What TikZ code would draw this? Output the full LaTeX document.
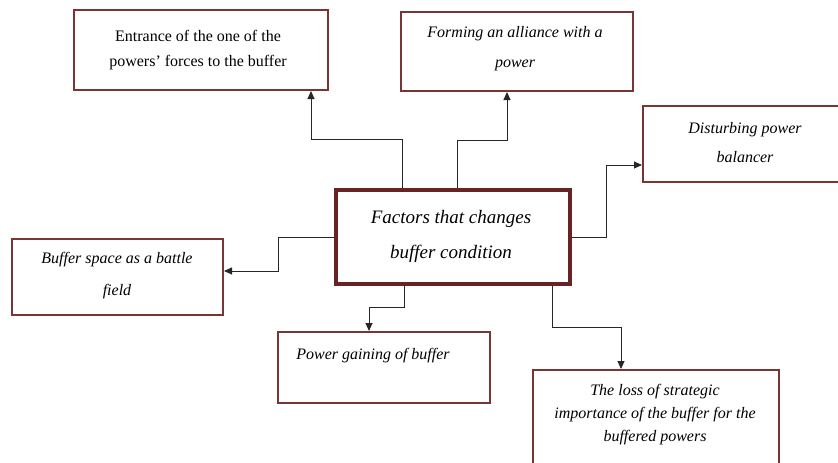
\documentclass[tikz,border=0pt]{standalone}
\usepackage{fontspec}
\setmainfont{Liberation Serif}
\usetikzlibrary{arrows.meta}
\definecolor{boxred}{RGB}{122,52,52}
\definecolor{cenred}{RGB}{104,36,36}
\begin{document}
\begin{tikzpicture}[x=1pt,y=-1pt,
  box/.style={draw=boxred,line width=2pt,fill=white,anchor=north west,inner sep=0pt,align=center},
  cbox/.style={draw=cenred,line width=4pt,fill=white,anchor=north west,inner sep=0pt,align=center},
  conn/.style={draw=black!85,line width=0.9pt,-{Triangle[length=8pt,width=7pt]}},
  itx/.style={font=\fontsize{16}{30}\selectfont\itshape,align=center},
  upx/.style={font=\fontsize{16}{25}\selectfont,align=center}]
\useasboundingbox (0,0) rectangle (838,463);
% boxes
\node[box,minimum width=254pt,minimum height=80pt] (e) at (73,9) {};
\node[upx] (et) at (198,50) {Entrance of the one of the\\powers' forces to the buffer};
\node[box,minimum width=232pt,minimum height=79pt] (f) at (400,11) {};
\node[itx] (ft) at (515,49) {Forming an alliance with a\\power};
\node[box,minimum width=205pt,minimum height=76pt] (d) at (642,105) {};
\node[itx,font=\fontsize{16}{29}\selectfont\itshape] (dt) at (745,143) {Disturbing power\\balancer};
\node[box,minimum width=211pt,minimum height=76pt] (b) at (11,238) {};
\node[itx,font=\fontsize{16}{32}\selectfont\itshape] (bt) at (117,276) {Buffer space as a battle\\field};
\node[box,minimum width=212pt,minimum height=71pt] (p) at (277,331) {};
\node[itx] (pt) at (373,356) {Power gaining of buffer};
\node[box,minimum width=246pt,minimum height=110pt] (l) at (532,369) {};
\node[itx,font=\fontsize{16}{23}\selectfont\itshape] (lt) at (655,415) {The loss of strategic\\importance of the buffer for the\\buffered powers};
\node[cbox,minimum width=234pt,minimum height=94pt] (c) at (334,188) {};
\node[itx,font=\fontsize{19}{35}\selectfont\itshape] (ct) at (451,236) {Factors that changes\\buffer condition};
% connectors
\draw[conn] (c.north -| 402,0) |- (311,139) -- (e.south -| 311,0);
\draw[conn] (c.north -| 457,0) |- (507,140) -- (f.south -| 507,0);
\draw[conn] (c.east |- 0,237) -| (606,165) -- (d.west |- 0,165);
\draw[conn] (c.west |- 0,237) -| (278,271) -- (b.east |- 0,271);
\draw[conn] (c.south -| 404,0) |- (369,307) -- (p.north -| 369,0);
\draw[conn] (c.south -| 552,0) |- (621,327) -- (l.north -| 621,0);
\end{tikzpicture}
\end{document}
